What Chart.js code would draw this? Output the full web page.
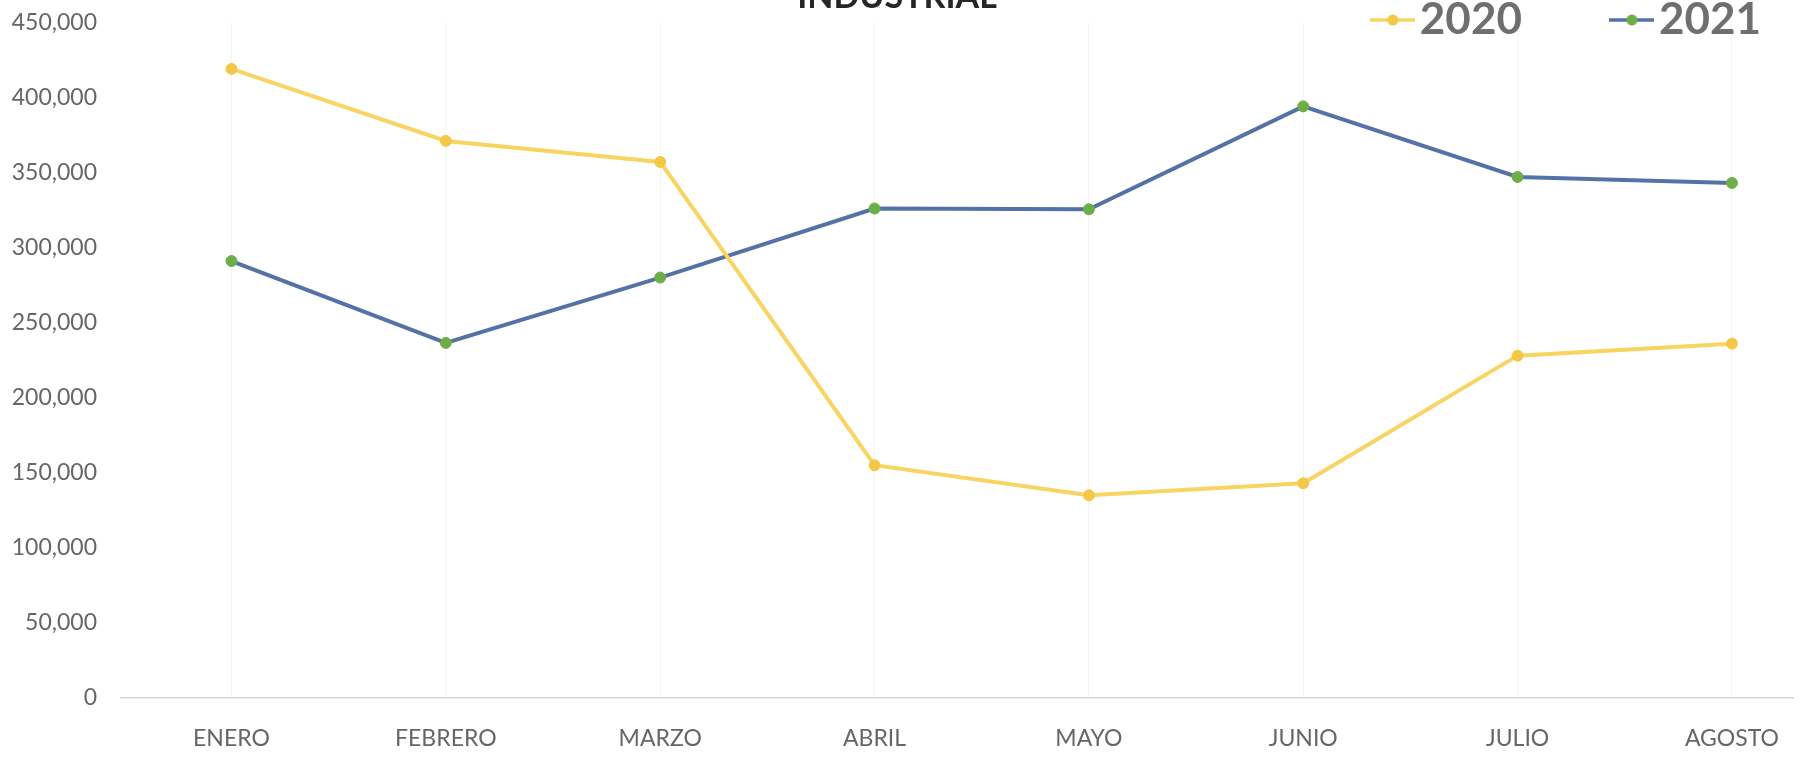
<!DOCTYPE html>
<html>
<head>
<meta charset="utf-8">
<script src="https://cdn.jsdelivr.net/npm/chart.js@4.4.1/dist/chart.umd.min.js"></script>
<style>
html,body{margin:0;padding:0;background:#fff;overflow:hidden;}
#wrap{width:1800px;height:761px;}
</style>
</head>
<body>
<div id="wrap"><canvas id="c" width="1800" height="761"></canvas></div>
<script>
// ---- data ----
const chartTitle = 'INDUSTRIAL';
const categories = ['ENERO', 'FEBRERO', 'MARZO', 'ABRIL', 'MAYO', 'JUNIO', 'JULIO', 'AGOSTO'];
const seriesNames = ['2020', '2021'];
const values2020 = [419000, 371000, 357000, 155000, 135000, 143000, 228000, 236000];
const values2021 = [291000, 236500, 280000, 326000, 325500, 394000, 347000, 343000];
const yTickValues = [0, 50000, 100000, 150000, 200000, 250000, 300000, 350000, 400000, 450000];

// ---- styles ----
const yellowLine = '#F8D462';
const yellowDot = '#F4C846';
const blueLine = '#5572A6';
const greenDot = '#6CAF48';
const tickGray = '#666666';
const LEG_PAD = 105;
const LEG_FONT = 44;

function markerImage(lineColor, dotColor) {
  const c = document.createElement('canvas');
  c.width = 45; c.height = 14;
  const g = c.getContext('2d');
  g.strokeStyle = lineColor; g.lineWidth = 3.5;
  g.beginPath(); g.moveTo(0, 7); g.lineTo(45, 7); g.stroke();
  g.fillStyle = dotColor;
  g.beginPath(); g.arc(22.5, 7, 5.5, 0, Math.PI * 2); g.fill();
  return c;
}
const markers = [markerImage(yellowLine, yellowDot), markerImage(blueLine, greenDot)];

const toPoints = arr => arr.map((v, i) => ({x: i, y: v}));

const legendNudge = {
  id: 'legendNudge',
  afterLayout(chart) {
    const l = chart.legend;
    if (!l) return;
    const mid = l.top + LEG_PAD + LEG_FONT / 2;
    const dy = 20 - mid;
    l.top += dy; l.bottom += dy;
  }
};

new Chart(document.getElementById('c'), {
  type: 'line',
  data: {
    datasets: [
      {
        label: seriesNames[0],
        data: toPoints(values2020),
        borderColor: yellowLine,
        backgroundColor: yellowDot,
        pointBackgroundColor: yellowDot,
        pointBorderColor: yellowDot,
        borderWidth: 4,
        pointRadius: 5.5,
        pointBorderWidth: 1,
        tension: 0
      },
      {
        label: seriesNames[1],
        data: toPoints(values2021),
        borderColor: blueLine,
        backgroundColor: greenDot,
        pointBackgroundColor: greenDot,
        pointBorderColor: greenDot,
        borderWidth: 4,
        pointRadius: 5.5,
        pointBorderWidth: 1,
        tension: 0
      }
    ]
  },
  options: {
    responsive: false,
    animation: false,
    devicePixelRatio: 1,
    layout: { padding: { top: -177.5, left: -72, right: -66, bottom: 5.4 } },
    plugins: {
      title: {
        display: true,
        text: chartTitle,
        color: '#262626',
        font: { family: 'Lato', size: 34, weight: 'bold' },
        padding: { top: 154.1, bottom: -154.1 }
      },
      legend: {
        display: true,
        position: 'top',
        align: 'end',
        labels: {
          usePointStyle: true,
          pointStyleWidth: 10,
          padding: LEG_PAD,
          color: '#6F6F6F',
          font: { family: 'Lato', size: LEG_FONT, weight: 'bold' },
          generateLabels(chart) {
            return chart.data.datasets.map((ds, i) => ({
              text: ds.label,
              pointStyle: markers[i],
              datasetIndex: i,
              hidden: false,
              lineWidth: 0,
              fontColor: '#6F6F6F'
            }));
          }
        }
      },
      tooltip: { enabled: false }
    },
    scales: {
      x: {
        type: 'linear',
        min: -0.5154,
        max: 7.2871,
        afterBuildTicks(axis) { axis.ticks = categories.map((_, i) => ({value: i})); },
        ticks: {
          autoSkip: false,
          maxRotation: 0,
          padding: 3,
          color: tickGray,
          font: { family: 'Lato', size: 23 },
          callback: v => categories[v]
        },
        grid: { display: true, drawTicks: true, tickLength: 24, tickColor: 'rgba(0,0,0,0)', color: '#F4F4F4', lineWidth: 1 },
        border: { display: true, color: '#D4D4D4', width: 1.5 }
      },
      y: {
        min: 0,
        max: 450000,
        afterBuildTicks(axis) { axis.ticks = yTickValues.map(v => ({value: v})); },
        afterFit(axis) { axis.width = 193; },
        ticks: {
          padding: 5,
          color: tickGray,
          font: { family: 'Lato', size: 23 },
          callback: v => v.toLocaleString('en-US')
        },
        grid: { display: false, drawTicks: true, tickLength: 19 },
        border: { display: false }
      }
    }
  },
  plugins: [legendNudge]
});
</script>
</body>
</html>
